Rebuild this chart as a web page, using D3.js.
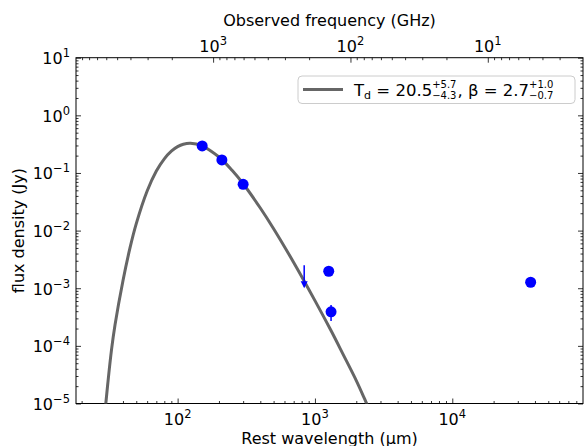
<!DOCTYPE html>
<html>
<head>
  <script src="https://d3js.org/d3.v7.min.js"></script>
  <style>
  body { margin: 0; background: white; }
  text { font-family: "DejaVu Sans", sans-serif; fill: black; white-space: pre; }
  </style>
</head>
<body>
  <script>
  var w = 584;
  var h = 446;
  var pLeft = 76, pRight = 583, pTop = 57.7, pBottom = 403.5;

  //Redshift factor (1+z) linking rest wavelength to observed frequency
  var onePlusZ = 1.653;
  var c = 299792.458; //um * GHz

  //Fitted greybody curve
  var curveWl   = [29.5, 30, 31, 33, 35, 40, 45, 50, 60, 70, 80, 90, 100, 110, 124, 150, 200, 250, 300, 400, 500, 700, 1000, 1300, 1600, 2000, 2300, 2450];
  var curveFlux = [6.5e-6, 1.0e-5, 2.2e-5, 8.5e-5, 2.3e-4, 1.35e-3, 5.0e-3, 1.32e-2, 4.86e-2, 0.108, 0.176, 0.239, 0.286, 0.3145, 0.327, 0.296, 0.189, 0.110, 0.065, 0.0247, 0.0108, 2.8e-3, 6.1e-4, 1.9e-4, 7.2e-5, 2.5e-5, 1.2e-5, 8.5e-6];

  //Detections
  var ptWl   = [151, 210, 300, 1260, 1310, 37200];
  var ptFlux = [0.294, 0.168, 0.0636, 1.97e-3, 3.9e-4, 1.27e-3];
  var ptErrLo = [0, 0, 0, 0, 1.2e-4, 0];
  var ptErrHi = [0, 0, 0, 0, 1.2e-4, 0];

  //Upper limit
  var limWl = [835];
  var limFlux = [2.5e-3];
  var limTip = [1.0e-3];

  //Axis ticks
  var xMajors = [100, 1000, 10000];
  var yMajors = [1e-5, 1e-4, 1e-3, 1e-2, 1e-1, 1, 10];
  var fMajors = [1000, 100, 10];

  var x = d3.scaleLog().domain([18.2, 89500]).range([pLeft, pRight]);
  var y = d3.scaleLog().domain([1e-5, 10]).range([pBottom, pTop]);
  var xTop = d3.scaleLog()
    .domain([c / (18.2 * onePlusZ), c / (89500 * onePlusZ)])
    .range([pLeft, pRight]);

  var svg = d3.select("body")
    .append("svg")
    .attr("width", w)
    .attr("height", h);

  svg.append("rect").attr("width", w).attr("height", h).attr("fill", "white");

  svg.append("clipPath").attr("id", "clip")
    .append("rect")
    .attr("x", pLeft).attr("y", pTop)
    .attr("width", pRight - pLeft).attr("height", pBottom - pTop);

  //Minor ticks for a log scale: 2..9 times each decade inside the domain
  function minors(scale){
    var d = scale.domain();
    var lo = Math.min(d[0], d[1]), hi = Math.max(d[0], d[1]);
    var out = [];
    for(var e = Math.floor(Math.log10(lo)); e <= Math.ceil(Math.log10(hi)); e++){
      for(var k = 2; k <= 9; k++){
        var v = k * Math.pow(10, e);
        if(v >= lo && v <= hi) out.push(v);
      }
    }
    return out;
  }

  function drawAxis(axisFn, scale, majors, transform){
    svg.append("g").attr("transform", transform)
      .call(axisFn(scale).tickValues(minors(scale)).tickSize(-2.5).tickFormat(""))
      .call(function(g){ g.select(".domain").remove(); });
    svg.append("g").attr("transform", transform)
      .call(axisFn(scale).tickValues(majors).tickSize(-5).tickFormat(""))
      .call(function(g){ g.select(".domain").remove(); });
  }

  drawAxis(d3.axisBottom, x, xMajors, "translate(0," + pBottom + ")");
  drawAxis(d3.axisTop, xTop, fMajors, "translate(0," + pTop + ")");
  drawAxis(d3.axisLeft, y, yMajors, "translate(" + pLeft + ",0)");
  drawAxis(d3.axisRight, y, yMajors, "translate(" + pRight + ",0)");
  svg.selectAll(".tick line").attr("stroke", "black").attr("stroke-width", 0.8);

  //Frame
  svg.append("rect")
    .attr("x", pLeft).attr("y", pTop)
    .attr("width", pRight - pLeft).attr("height", pBottom - pTop)
    .attr("fill", "none").attr("stroke", "black").attr("stroke-width", 1);

  //Power-of-ten label with raised exponent
  function powLabel(sel, v){
    var e = Math.round(Math.log10(v));
    sel.append("tspan").text("10");
    sel.append("tspan").attr("dy", -7).attr("font-size", 11.5)
      .text(String(e).replace("-", "\u2212"));
  }

  xMajors.forEach(function(v){
    svg.append("text").attr("x", x(v)).attr("y", 425)
      .attr("text-anchor", "middle").attr("font-size", 16)
      .call(powLabel, v);
  });
  fMajors.forEach(function(v){
    svg.append("text").attr("x", xTop(v)).attr("y", 52)
      .attr("text-anchor", "middle").attr("font-size", 16)
      .call(powLabel, v);
  });
  yMajors.forEach(function(v){
    svg.append("text").attr("x", 70).attr("y", y(v) + 6.5)
      .attr("text-anchor", "end").attr("font-size", 16)
      .call(powLabel, v);
  });

  svg.append("text").attr("x", (pLeft + pRight) / 2).attr("y", 443.5)
    .attr("text-anchor", "middle").attr("font-size", 16)
    .text("Rest wavelength (\u00b5m)");
  svg.append("text").attr("x", (pLeft + pRight) / 2).attr("y", 26)
    .attr("text-anchor", "middle").attr("font-size", 16)
    .text("Observed frequency (GHz)");
  svg.append("text")
    .attr("transform", "translate(24," + (pTop + pBottom) / 2 + ")rotate(-90)")
    .attr("text-anchor", "middle").attr("font-size", 16)
    .text("flux density (Jy)");

  //Model curve
  var line = d3.line()
    .x(function(d){ return x(d[0]); })
    .y(function(d){ return y(d[1]); })
    .curve(d3.curveCatmullRom);
  svg.append("path")
    .datum(d3.zip(curveWl, curveFlux))
    .attr("clip-path", "url(#clip)")
    .attr("d", line)
    .attr("fill", "none")
    .attr("stroke", "#666666")
    .attr("stroke-width", 3);

  //Error bars
  var plot = svg.append("g").attr("clip-path", "url(#clip)");
  ptWl.forEach(function(wl, i){
    if(ptErrLo[i] > 0 || ptErrHi[i] > 0){
      plot.append("line")
        .attr("x1", x(wl)).attr("x2", x(wl))
        .attr("y1", y(ptFlux[i] - ptErrLo[i])).attr("y2", y(ptFlux[i] + ptErrHi[i]))
        .attr("stroke", "blue").attr("stroke-width", 1.5);
    }
  });

  //Upper limit arrows
  limWl.forEach(function(wl, i){
    var px = x(wl), y0 = y(limFlux[i]), y1 = y(limTip[i]);
    plot.append("line")
      .attr("x1", px).attr("x2", px).attr("y1", y0).attr("y2", y1 - 2)
      .attr("stroke", "blue").attr("stroke-width", 1.5);
    plot.append("path")
      .attr("d", "M" + (px - 3.5) + "," + (y1 - 7) + "L" + (px + 3.5) + "," + (y1 - 7) + "L" + px + "," + y1 + "Z")
      .attr("fill", "blue");
  });

  plot.selectAll("circle")
    .data(d3.zip(ptWl, ptFlux))
    .enter()
    .append("circle")
      .attr("cx", function(d){ return x(d[0]); })
      .attr("cy", function(d){ return y(d[1]); })
      .attr("r", 5.5)
      .attr("fill", "blue");

  //Legend
  var lg = svg.append("g");
  lg.append("rect")
    .attr("x", 298).attr("y", 76).attr("width", 277).attr("height", 27.5)
    .attr("rx", 4).attr("fill", "white").attr("fill-opacity", 0.8)
    .attr("stroke", "#cccccc").attr("stroke-width", 1);
  lg.append("line")
    .attr("x1", 303).attr("x2", 343).attr("y1", 89.5).attr("y2", 89.5)
    .attr("stroke", "#666666").attr("stroke-width", 3);

  var cx = 354, base = 95.5;
  function piece(txt, size, dy){
    var t = lg.append("text").attr("x", cx).attr("y", base + dy)
      .attr("font-size", size).text(txt);
    return t.node().getComputedTextLength();
  }
  function stacked(sup, sub){
    var a = piece(sup, 10, -8);
    var b = piece(sub, 10, 3);
    cx += Math.max(a, b) + 1;
  }
  cx += piece("T", 16.5, 0);
  cx += piece("d", 11, 3);
  cx += piece(" = 20.5", 16.5, 0);
  stacked("+5.7", "\u22124.3");
  cx += piece(", \u03b2 = 2.7", 16.5, 0);
  stacked("+1.0", "\u22120.7");
  </script>
</body>
</html>
